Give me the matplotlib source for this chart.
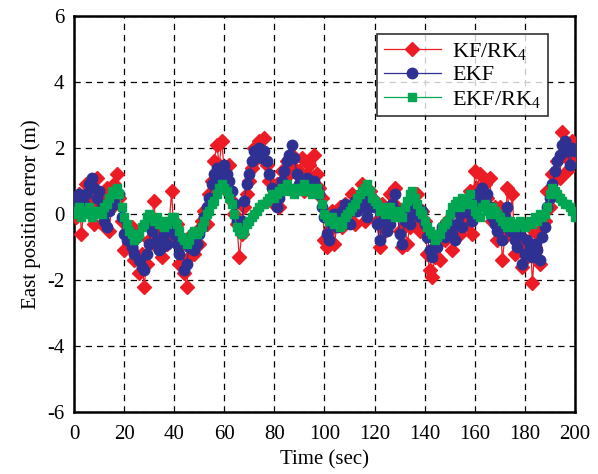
import numpy as np
import matplotlib
matplotlib.use("Agg")
import matplotlib.pyplot as plt

plt.rcParams['font.family'] = ['Liberation Serif', 'DejaVu Serif']
plt.rcParams['mathtext.fontset'] = 'custom'
plt.rcParams['mathtext.rm'] = 'Liberation Serif'
plt.rcParams['mathtext.it'] = 'Liberation Serif'

time = np.arange(0, 201, 1)

kf_rk4 = [
    0.4, -0.1, 0.6, -0.6, 0.2, 0.9, 0.4, 1.0, -0.3, 1.1,
    0.3, -0.3, 0.6, 0.8, -0.5, 0.2, 0.9, 1.2, 0.5, -0.2,
    -1.1, -0.5, -0.9, -0.4, -1.4, -0.7, -1.8, -1.2, -2.2, -1.5,
    -0.8, -0.2, 0.4, -1.0, -0.6, -1.3, -0.4, -0.9, -0.3, 0.7,
    -0.8, -0.3, -1.5, -0.9, -1.8, -2.2, -1.3, -0.6, -1.2, -0.5,
    -0.9, -0.2, 0.1, -0.3, 0.6, 1.0, 1.6, 2.1, 1.5, 2.2,
    1.3, 0.7, 1.5, 0.4, 0.0, -0.3, -1.3, -0.6, 0.2, 0.6,
    1.0, 1.4, 2.0, 1.7, 2.2, 1.9, 2.3, 1.5, 1.0, 0.5,
    0.3, 0.9, 0.2, 1.3, 0.8, 1.6, 1.2, 1.8, 1.4, 0.8,
    1.3, 1.7, 0.7, 1.2, 1.5, 0.9, 1.8, 1.2, 0.8, 0.5,
    -0.8, -1.0, -0.5, 0.1, -0.9, -0.3, 0.2, -0.4, 0.3, -0.2,
    0.0, 0.6, -0.3, 0.5, 0.2, 0.9, -0.2, 0.3, 0.7, 0.5,
    0.4, -0.2, -1.0, 0.3, -0.5, -0.2, 0.6, 0.0, 0.8, 0.2,
    -0.5, -1.0, -0.3, -0.9, -0.4, 0.2, -0.2, 0.6, -0.5, 0.1,
    -0.2, -1.2, -1.7, -1.9, -1.3, -0.9, -1.4, -0.5, -0.8, -0.2,
    -0.4, -1.1, -0.5, 0.2, -0.6, 0.4, -0.1, -0.3, 0.7, -0.6,
    1.3, 0.8, 1.2, 0.3, 0.9, 0.5, 1.1, -0.2, 0.2, -0.8,
    0.2, -1.4, -0.7, 0.8, -0.3, 0.6, -1.2, -0.5, -0.9, -1.6,
    -0.8, -1.3, -0.4, -2.1, -1.0, -0.6, -1.5, -0.3, -0.2, 0.7,
    0.2, 1.2, 0.6, 1.6, 1.1, 2.5, 1.8, 1.3, 1.6, 2.2, 1.6,
]

ekf = [
    0.2, 0.4, 0.6, 0.5, 0.3, 0.6, 0.9, 1.1, 0.8, 0.5,
    0.7, 0.2, -0.2, -0.4, 0.1, 0.5, 0.3, 0.6, 0.6, -0.1,
    -0.6, -0.8, -0.5, -1.0, -1.2, -0.7, -1.4, -1.6, -1.7, -1.2,
    -0.9, -0.5, -0.3, -0.8, -1.1, -1.0, -0.6, -0.9, -0.5, -0.4,
    -0.6, -0.9, -1.2, -0.8, -1.7, -1.5, -1.0, -0.7, -1.1, -0.9,
    -0.6, -0.4, -0.1, 0.2, 0.5, 0.9, 1.2, 1.4, 1.1, 1.3,
    1.5, 1.2, 1.0, 0.7, 0.3, -0.2, -0.4, -0.2, 0.4, 0.9,
    1.2, 1.6, 1.9, 1.8, 2.0, 1.7, 1.9, 1.6, 1.2, 0.8,
    0.6, 0.2, 0.5, 1.0, 1.3, 1.6, 1.8, 2.1, 1.7, 1.2,
    0.9, 1.0, 0.8, 1.1, 0.9, 0.7, 1.0, 0.8, 0.6, 0.2,
    -0.1, -0.6, -0.8, -0.3, 0.0, -0.4, -0.2, 0.1, 0.3, 0.0,
    -0.3, 0.2, 0.4, 0.1, 0.3, 0.5, 0.2, -0.1, 0.2, 0.4,
    0.2, -0.3, -0.8, -0.2, 0.1, -0.5, -0.3, 0.3, 0.6, 0.1,
    -0.6, -0.9, -0.2, 0.1, -0.3, 0.0, 0.3, 0.2, -0.1, 0.1,
    -0.3, -0.7, -1.1, -1.3, -0.8, -1.0, -0.6, -0.4, -0.7, -0.5,
    -0.3, -0.6, -0.8, -0.3, 0.0, -0.4, 0.1, 0.3, 0.0, -0.2,
    0.4, 0.6, 0.5, 0.8, 0.4, 0.6, 0.2, -0.1, -0.3, -0.5,
    -0.2, -0.8, -0.1, 0.2, -0.5, -0.3, -0.8, -1.0, -0.6, -1.5,
    -1.2, -0.8, -1.0, -1.3, -0.9, -1.1, -1.4, -0.7, -0.4, 0.2,
    0.5, 0.9, 1.3, 1.6, 1.8, 2.1, 2.2, 1.9, 1.5, 2.0, 1.9,
]

ekf_rk4 = [
    0.1, 0.0, 0.2, -0.1, 0.0, 0.1, 0.2, -0.1, 0.1, 0.0,
    0.1, 0.0, 0.2, 0.3, 0.5, 0.7, 0.6, 0.8, 0.6, 0.2,
    -0.1, -0.3, -0.5, -0.6, -0.8, -0.7, -0.6, -0.4, -0.3, -0.1,
    0.0, -0.1, -0.2, -0.1, -0.3, -0.2, -0.4, -0.3, -0.2, -0.1,
    -0.1, -0.3, -0.5, -0.7, -0.8, -0.9, -0.8, -0.6, -0.5, -0.6,
    -0.5, -0.4, -0.2, 0.0, 0.1, 0.3, 0.4, 0.6, 0.8, 0.9,
    0.8, 0.7, 0.5, 0.3, 0.0, -0.4, -0.5, -0.6, -0.5, -0.3,
    -0.2, -0.1, 0.0, 0.1, 0.2, 0.3, 0.3, 0.4, 0.5, 0.6,
    0.5, 0.6, 0.7, 0.8, 0.7, 0.9, 0.8, 0.7, 0.6, 0.8,
    0.7, 0.8, 0.9, 0.7, 0.8, 0.6, 0.7, 0.8, 0.6, 0.3,
    0.0, -0.1, -0.2, -0.1, -0.3, -0.2, -0.4, -0.3, -0.1, 0.0,
    0.1, 0.2, 0.3, 0.5, 0.6, 0.7, 0.8, 0.9, 0.7, 0.5,
    0.4, 0.3, 0.1, 0.2, 0.0, 0.1, 0.2, 0.0, -0.1, 0.1,
    0.0, -0.1, 0.2, 0.4, 0.6, 0.7, 0.5, 0.3, 0.1, 0.0,
    -0.2, -0.4, -0.5, -0.6, -0.8, -0.7, -0.6, -0.4, -0.3, -0.2,
    0.0, 0.2, 0.3, 0.4, 0.2, 0.5, 0.3, 0.4, 0.6, 0.3,
    0.1, 0.0, -0.1, 0.2, 0.3, 0.1, 0.0, 0.2, 0.1, 0.0,
    -0.1, -0.2, -0.3, -0.4, -0.2, -0.3, -0.4, -0.3, -0.2, -0.3,
    -0.4, -0.3, -0.2, -0.3, -0.1, -0.2, 0.0, -0.1, 0.0, 0.2,
    0.6, 0.8, 0.7, 0.6, 0.5, 0.4, 0.3, 0.3, 0.2, 0.1, -0.1,
]

x_ticks = [0, 20, 40, 60, 80, 100, 120, 140, 160, 180, 200]
y_ticks = [-6, -4, -2, 0, 2, 4, 6]

fig = plt.figure(figsize=(5.98, 4.74), dpi=100)
ax = fig.add_axes([0.1237, 0.1308, 0.8378, 0.8354])

ax.plot(time, kf_rk4, color='#ED1C24', lw=0.9, marker='D', ms=7,
        mec='#ED1C24', mfc='#ED1C24', label='KF/RK$_4$', zorder=3)
ax.plot(time, ekf, color='#2E3192', lw=0.9, marker='o', ms=7.5,
        mec='#2E3192', mfc='#2E3192', label='EKF', zorder=4)
ax.plot(time, ekf_rk4, color='#00A651', lw=0.9, marker='s', ms=5.5,
        mec='#00A651', mfc='#00A651', label='EKF/RK$_4$', zorder=5)

ax.set_xlim(0, 200)
ax.set_ylim(-6, 6)
ax.set_xticks(x_ticks)
ax.set_yticks(y_ticks)
ax.set_xticklabels([str(v) for v in x_ticks])
ax.set_yticklabels([str(v) for v in y_ticks])
ax.tick_params(length=0, labelsize=15)
ax.tick_params(axis='x', pad=9)
ax.tick_params(axis='y', pad=7)
ax.grid(True, color='black', linestyle=(0, (5, 4)), linewidth=0.9)
ax.set_axisbelow(True)
for s in ax.spines.values():
    s.set_linewidth(1.8)

ax.set_xlabel('Time (sec)', fontsize=15, labelpad=5)
ax.set_ylabel('East position error (m)', fontsize=15, labelpad=4)

leg = ax.legend(loc='upper right', bbox_to_anchor=(0.946, 0.955), fontsize=16,
                frameon=True, fancybox=False, edgecolor='black',
                handlelength=2.6, borderpad=0.3, labelspacing=0.15,
                handletextpad=0.5, borderaxespad=0.0)
leg.get_frame().set_linewidth(1.2)
leg.set_zorder(10)

fig.savefig('out.png', dpi=100)
